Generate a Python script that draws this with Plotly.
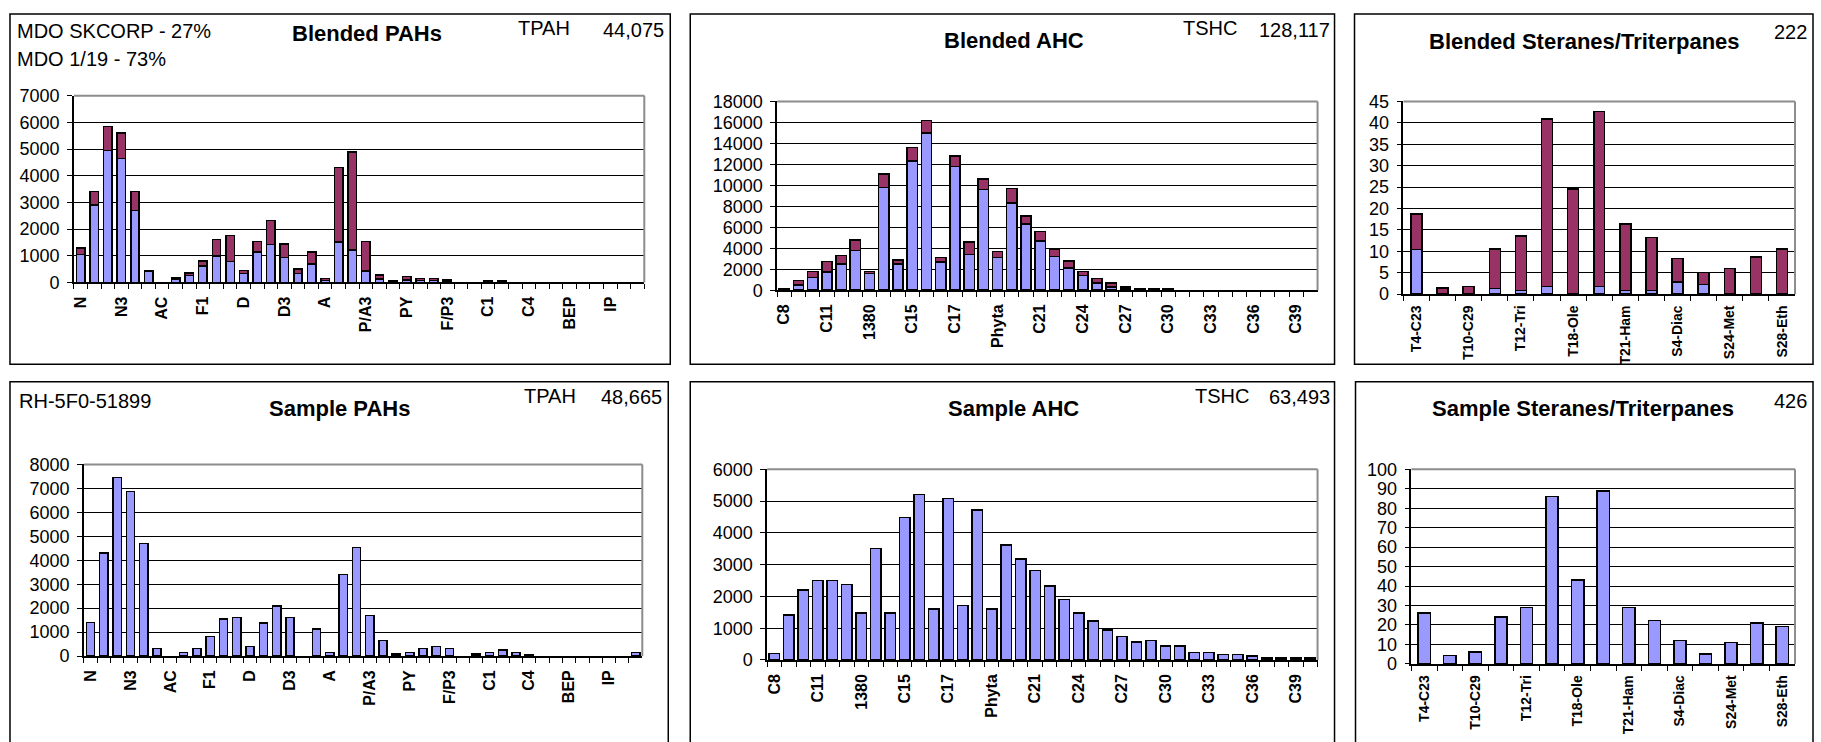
import plotly.graph_objects as go

W, H = 1821, 742
FONT = "Liberation Sans, Arial, sans-serif"
BLUE = "#9999FF"
MAROON = "#993366"

# ---------------- PAH analytes ----------------
pah_names = ["N", "N1", "N2", "N3", "N4", "B", "AC", "AE", "F", "F1", "F2", "F3",
             "D", "D1", "D2", "D3", "D4", "P", "A", "P/A1", "P/A2", "P/A3", "P/A4",
             "FL", "PY", "F/P1", "F/P2", "F/P3", "BA", "C", "C1", "C2", "C3", "C4",
             "BBF", "BKF", "BEP", "BAP", "PER", "IP", "DA", "BP"]
pah_shown = ["N", "N3", "AC", "F1", "D", "D3", "A", "P/A3", "PY", "F/P3", "C1", "C4", "BEP", "IP"]

blend_pah_lower = [1050, 2900, 4950, 4650, 2700, 420, 0, 130, 260, 620, 1000, 780,
                   330, 1150, 1430, 930, 340, 700, 80, 1520, 1220, 420, 130,
                   40, 90, 70, 70, 40, 0, 0, 30, 30, 0, 0,
                   0, 0, 0, 0, 0, 0, 0, 0]
blend_pah_upper = [250, 500, 900, 950, 700, 30, 0, 30, 90, 180, 600, 970,
                   110, 380, 900, 520, 160, 450, 70, 2780, 3660, 1110, 140,
                   40, 130, 80, 80, 50, 0, 0, 40, 40, 0, 0,
                   0, 0, 0, 0, 0, 0, 0, 0]
sample_pah = [1400, 4300, 7450, 6870, 4700, 320, 0, 160, 320, 810, 1540, 1620,
              405, 1380, 2090, 1620, 0, 1135, 160, 3400, 4540, 1700, 650,
              80, 160, 320, 400, 320, 0, 80, 160, 250, 160, 70,
              0, 0, 0, 0, 0, 0, 0, 160]

# ---------------- Aliphatic hydrocarbons ----------------
ahc_names = ["C8", "C9", "C10", "C11", "C12", "C13", "1380", "C14", "1470", "C15",
             "C16", "1650", "C17", "Pristane", "C18", "Phyta", "C19", "C20", "C21",
             "C22", "C23", "C24", "C25", "C26", "C27", "C28", "C29", "C30", "C31",
             "C32", "C33", "C34", "C35", "C36", "C37", "C38", "C39", "C40"]
ahc_shown = ["C8", "C11", "1380", "C15", "C17", "Phyta", "C21", "C24", "C27",
             "C30", "C33", "C36", "C39"]

blend_ahc_lower = [100, 500, 1200, 1750, 2500, 3800, 1600, 9800, 2500, 12300,
                   15000, 2700, 11800, 3400, 9600, 3100, 8300, 6300, 4700,
                   3200, 2100, 1400, 700, 300, 200, 80, 80, 80, 0,
                   0, 0, 0, 0, 0, 0, 0, 0, 0]
blend_ahc_upper = [50, 450, 600, 1000, 800, 1000, 200, 1300, 400, 1300,
                   1200, 400, 1000, 1200, 1000, 600, 1400, 800, 900,
                   700, 700, 400, 400, 400, 150, 70, 70, 70, 0,
                   0, 0, 0, 0, 0, 0, 0, 0, 0]
sample_ahc = [200, 1420, 2200, 2500, 2500, 2380, 1480, 3500, 1480, 4480,
              5200, 1600, 5080, 1720, 4720, 1600, 3620, 3180, 2820,
              2320, 1900, 1480, 1230, 940, 740, 570, 610, 440, 440,
              240, 240, 180, 180, 120, 60, 60, 60, 60]

# ---------------- Steranes / triterpanes ----------------
bio_names = ["T4-C23", "T5-C24", "T10-C29", "T11-Ts", "T12-Tri", "T15-Tm", "T18-Ole",
             "T19-Hop", "T21-Ham", "T22-Hom", "S4-Diac", "S14-Reg", "S24-Met",
             "S25-Met", "S28-Eth"]
bio_shown = ["T4-C23", "T10-C29", "T12-Tri", "T18-Ole", "T21-Ham", "S4-Diac",
             "S24-Met", "S28-Eth"]

blend_bio_lower = [10.4, 0, 0, 1.3, 0.9, 1.8, 0, 1.8, 0.9, 0.9, 2.8, 2.3, 0, 0, 0]
blend_bio_upper = [8.3, 1.4, 1.8, 9.2, 12.7, 39.1, 24.6, 40.9, 15.5, 12.3, 5.5, 2.8, 6.0, 8.7, 10.5]
sample_bio = [26.1, 4.2, 6.1, 24.1, 28.9, 85.9, 43.0, 88.9, 28.9, 22.3, 12.1, 5.0, 11.1, 21.1, 19.1]

# ---------------- panel layout (pixel boxes) ----------------
# plot area: (left, right, top, bottom); frame: (left, right, top, bottom)
panels = [
    dict(plot=(72, 643, 88, 280), frame=(8, 669, 4, 364), yr=7000, dt=1000,
         names=pah_names, shown=pah_shown, width=0.62, lab=16, gap=6),
    dict(plot=(776, 1317, 94, 288), frame=(689, 1334, 4, 364), yr=18000, dt=2000,
         names=ahc_names, shown=ahc_shown, width=0.72, lab=16, gap=6),
    dict(plot=(1403, 1795, 94, 292), frame=(1354, 1813, 4, 364), yr=45, dt=5,
         names=bio_names, shown=bio_shown, width=0.42, lab=14, gap=4),
    dict(plot=(82, 641, 467, 664), frame=(8, 667, 382, 760), yr=8000, dt=1000,
         names=pah_names, shown=pah_shown, width=0.62, lab=16, gap=6),
    dict(plot=(766, 1317, 472, 668), frame=(689, 1334, 382, 760), yr=6000, dt=1000,
         names=ahc_names, shown=ahc_shown, width=0.72, lab=16, gap=6),
    dict(plot=(1411, 1795, 472, 672), frame=(1355, 1813, 382, 760), yr=100, dt=10,
         names=bio_names, shown=bio_shown, width=0.48, lab=14, gap=4),
]

series = [
    [(blend_pah_lower, BLUE), (blend_pah_upper, MAROON)],
    [(blend_ahc_lower, BLUE), (blend_ahc_upper, MAROON)],
    [(blend_bio_lower, BLUE), (blend_bio_upper, MAROON)],
    [(sample_pah, BLUE)],
    [(sample_ahc, BLUE)],
    [(sample_bio, BLUE)],
]

fig = go.Figure()
shapes = []

for i, (p, ser) in enumerate(zip(panels, series), start=1):
    sfx = "" if i == 1 else str(i)
    for vals, col in ser:
        # empty analytes are left out so no outline is stroked along the axis
        fig.add_trace(go.Bar(
            x=p["names"], y=[v if v else None for v in vals], width=p["width"],
            marker=dict(color=col, line=dict(color="black", width=1.5)),
            xaxis="x" + sfx, yaxis="y" + sfx, showlegend=False, hoverinfo="x+y"))

    l, r, t, b = p["plot"]
    labels = [n if n in p["shown"] else "" for n in p["names"]]
    fig.layout["xaxis" + sfx] = dict(
        domain=[l / W, r / W], anchor="y" + sfx, type="category",
        categoryorder="array", categoryarray=p["names"],
        range=[-0.5, len(p["names"]) - 0.5],
        tickmode="array", tickvals=p["names"], ticktext=labels,
        tickson="boundaries", ticks="outside", ticklen=5, tickwidth=1,
        tickcolor="black", tickangle=-90, showgrid=False, ticklabelstandoff=p["gap"],
        showline=True, linecolor="black", linewidth=1.5,
        tickfont=dict(family=FONT, size=p["lab"], color="black", weight="bold"),
        fixedrange=True)
    fig.layout["yaxis" + sfx] = dict(
        domain=[1 - b / H, 1 - t / H], anchor="x" + sfx,
        range=[0, p["yr"]], dtick=p["dt"], tick0=0, tickformat="d",
        showgrid=True, gridcolor="black", gridwidth=1,
        zeroline=False, showline=True, linecolor="black", linewidth=1.5,
        ticks="outside", ticklen=5, tickcolor="black", ticklabelstandoff=4,
        tickfont=dict(family=FONT, size=18, color="black"), fixedrange=True)

    # grey plot-area border on the top and right edges
    xd, yd = "x" + sfx + " domain", "y" + sfx + " domain"
    shapes.append(dict(type="line", xref=xd, yref=yd, x0=0, x1=1, y0=1, y1=1,
                       line=dict(color="#8C8C8C", width=2)))
    shapes.append(dict(type="line", xref=xd, yref=yd, x0=1, x1=1, y0=0, y1=1,
                       line=dict(color="#8C8C8C", width=2)))
    # chart frame
    fl, fr, ft, fb = p["frame"]
    shapes.append(dict(type="rect", xref="paper", yref="paper",
                       x0=fl / W, x1=fr / W, y0=1 - fb / H, y1=1 - ft / H,
                       line=dict(color="black", width=1.5), fillcolor="rgba(0,0,0,0)"))

annotations = []


def label(text, px, py, size, anchor="left", bold=False):
    annotations.append(dict(
        text="<b>%s</b>" % text if bold else text,
        xref="paper", yref="paper", x=px / W, y=1 - py / H,
        xanchor=anchor, yanchor="middle", showarrow=False,
        font=dict(family=FONT, size=size, color="black")))


# top row
label("MDO SKCORP - 27%", 13, 22, 20)
label("MDO 1/19 - 73%", 13, 50, 20)
label("Blended PAHs", 365, 24, 22, "center", True)
label("TPAH", 515, 19, 20)
label("44,075", 665, 21, 20, "right")

label("Blended AHC", 1013, 31, 22, "center", True)
label("TSHC", 1180, 18, 20)
label("128,117", 1331, 21, 20, "right")

label("Blended Steranes/Triterpanes", 1584, 32, 22, "center", True)
label("222", 1809, 23, 20, "right")

# bottom row
label("RH-5F0-51899", 15, 402, 20)
label("Sample PAHs", 338, 410, 22, "center", True)
label("TPAH", 521, 397, 20)
label("48,665", 663, 398, 20, "right")

label("Sample AHC", 1013, 410, 22, "center", True)
label("TSHC", 1192, 397, 20)
label("63,493", 1331, 398, 20, "right")

label("Sample Steranes/Triterpanes", 1583, 410, 22, "center", True)
label("426", 1809, 402, 20, "right")

fig.update_layout(
    width=W, height=H, margin=dict(l=0, r=0, t=0, b=0),
    paper_bgcolor="white", plot_bgcolor="white",
    barmode="stack", showlegend=False,
    shapes=shapes, annotations=annotations,
    font=dict(family=FONT, color="black"))

fig.write_html("out.html", config={"displayModeBar": False})
